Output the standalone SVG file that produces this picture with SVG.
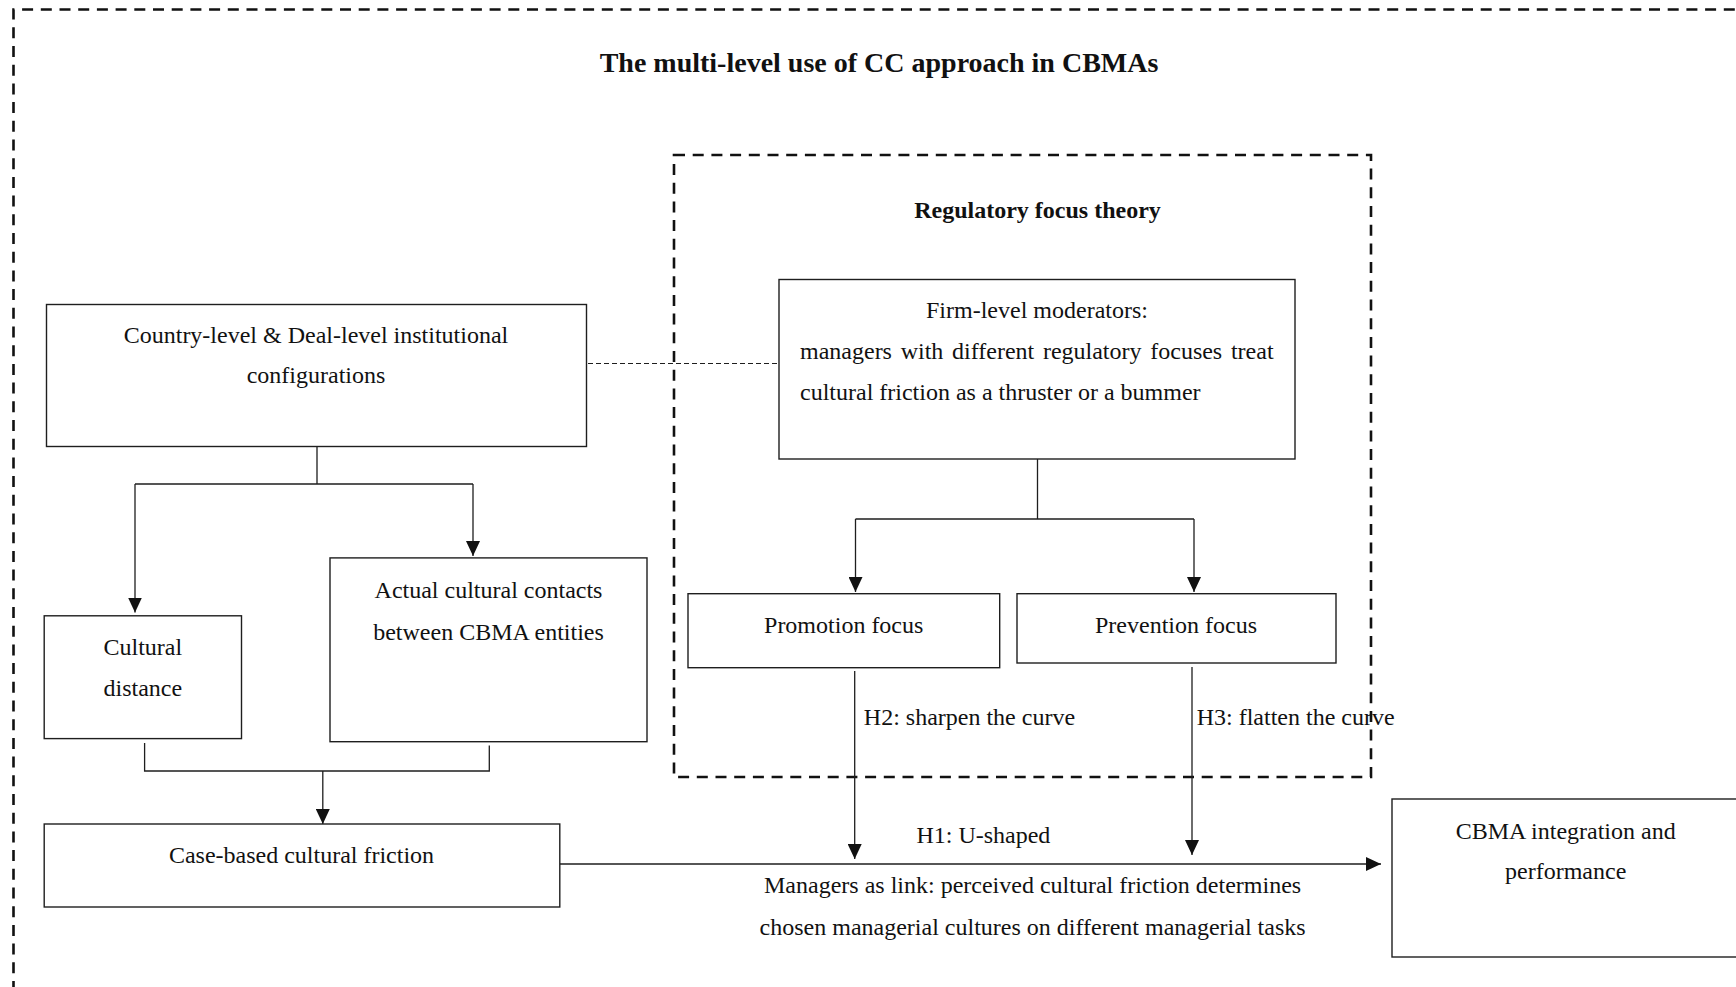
<svg xmlns="http://www.w3.org/2000/svg" width="1736" height="987" viewBox="0 0 1736 987">
  <style>
    .bg { fill: #ffffff; }
    .box { fill: #ffffff; stroke: #1e1e1e; stroke-width: 1.4; }
    .frame { fill: none; stroke: #111111; stroke-width: 2.6; stroke-dasharray: 11 7.7; }
    .ln { fill: none; stroke: #1e1e1e; stroke-width: 1.3; }
    .dash { stroke-dasharray: 5 3; stroke-width: 1.2; }
    .t { font-family: "Liberation Serif", "Times New Roman", serif; font-size: 24px; fill: #111111; }
    .c { text-anchor: middle; }
    .b { font-weight: bold; }
    .title { font-size: 28px; }
  </style>
  <defs>
    <marker id="arrow" markerUnits="userSpaceOnUse" markerWidth="15" markerHeight="14" refX="15" refY="7" orient="auto">
      <path d="M0,0 L15,7 L0,14 Z" fill="#111111"/>
    </marker>
  </defs>

  <rect class="bg" x="0" y="0" width="1736" height="987"/>

  <!-- Outer framework boundary (runs past the right and bottom edges) -->
  <g id="outer-frame">
    <path class="frame" d="M13.5,992 V9.5 H1745"/>
    <text class="t b c title" x="879" y="71.5">The multi-level use of CC approach in CBMAs</text>
  </g>

  <!-- Regulatory focus theory boundary -->
  <g id="rft-frame">
    <rect class="frame" x="674" y="155" width="697" height="622"/>
    <text class="t b c" x="1037.5" y="218">Regulatory focus theory</text>
  </g>

  <!-- Connectors -->
  <g id="connectors">
    <!-- institutional configurations to moderators (dashed) -->
    <path class="ln dash" d="M588,363.5 H779"/>
    <!-- institutional configurations fork -->
    <path class="ln" d="M317,446.5 V484 M135,484 H473"/>
    <path class="ln" d="M135,484 V612.5" marker-end="url(#arrow)"/>
    <path class="ln" d="M473,484 V556" marker-end="url(#arrow)"/>
    <!-- merge into case-based friction -->
    <path class="ln" d="M144.6,743 V771 H489.3 V745.5"/>
    <path class="ln" d="M322.8,771 V824" marker-end="url(#arrow)"/>
    <!-- moderators fork -->
    <path class="ln" d="M1037.5,459 V519 M855.5,519 H1194"/>
    <path class="ln" d="M855.5,519 V592" marker-end="url(#arrow)"/>
    <path class="ln" d="M1194,519 V592" marker-end="url(#arrow)"/>
    <!-- moderation arrows onto the main path -->
    <path class="ln" d="M854.7,671 V859" marker-end="url(#arrow)"/>
    <path class="ln" d="M1192,667 V855" marker-end="url(#arrow)"/>
    <!-- main effect -->
    <path class="ln" d="M560,864 H1381" marker-end="url(#arrow)"/>
    <text class="t" x="863.8" y="725">H2: sharpen the curve</text>
    <text class="t" x="1196.7" y="725">H3: flatten the curve</text>
    <text class="t" x="916.4" y="843">H1: U-shaped</text>
    <text class="t c" x="1032.6" y="893.3">Managers as link: perceived cultural friction determines</text>
    <text class="t c" x="1032.6" y="935">chosen managerial cultures on different managerial tasks</text>
  </g>

  <!-- Nodes -->
  <g id="institutional-configurations">
    <rect class="box" x="46.5" y="304.5" width="540" height="142"/>
    <text class="t c" x="316" y="343">Country-level &amp; Deal-level institutional</text>
    <text class="t c" x="316" y="383">configurations</text>
  </g>

  <g id="firm-level-moderators">
    <rect class="box" x="779" y="279.5" width="516" height="179.5"/>
    <text class="t c" x="1037" y="318">Firm-level moderators:</text>
    <text class="t" x="800" y="358.5" word-spacing="2.7">managers with different regulatory focuses treat</text>
    <text class="t" x="800" y="400">cultural friction as a thruster or a bummer</text>
  </g>

  <g id="cultural-distance">
    <rect class="box" x="44.2" y="615.8" width="197.3" height="122.8"/>
    <text class="t c" x="142.8" y="654.5">Cultural</text>
    <text class="t c" x="142.8" y="696.4">distance</text>
  </g>

  <g id="actual-cultural-contacts">
    <rect class="box" x="330" y="557.9" width="317" height="183.8"/>
    <text class="t c" x="488.5" y="597.7">Actual cultural contacts</text>
    <text class="t c" x="488.5" y="639.5">between CBMA entities</text>
  </g>

  <g id="case-based-friction">
    <rect class="box" x="44.2" y="824" width="515.6" height="83"/>
    <text class="t c" x="301.5" y="863">Case-based cultural friction</text>
  </g>

  <g id="promotion-focus">
    <rect class="box" x="688" y="593.7" width="311.7" height="74"/>
    <text class="t c" x="843.7" y="633">Promotion focus</text>
  </g>

  <g id="prevention-focus">
    <rect class="box" x="1017" y="593.7" width="319" height="69.3"/>
    <text class="t c" x="1176" y="633">Prevention focus</text>
  </g>

  <g id="cbma-performance">
    <rect class="box" x="1392" y="799" width="360" height="158"/>
    <text class="t c" x="1565.7" y="839.3">CBMA integration and</text>
    <text class="t c" x="1565.7" y="879.3">performance</text>
  </g>
</svg>
